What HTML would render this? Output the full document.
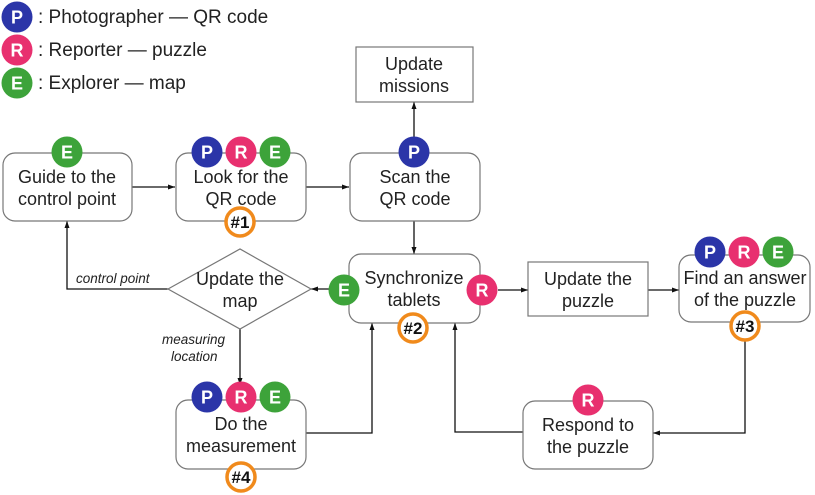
<!DOCTYPE html>
<html><head><meta charset="utf-8"><style>
body{margin:0;background:#fff;}
svg{display:block;font-family:"Liberation Sans",sans-serif;}
.box{fill:#fff;stroke:#777;stroke-width:1.2;}
.t{font-size:18px;fill:#222;text-anchor:middle;}
.ln{fill:none;stroke:#111;stroke-width:1.3;}
.bt{font-size:18px;font-weight:bold;fill:#fff;text-anchor:middle;}
.nt{font-size:17px;font-weight:bold;fill:#111;text-anchor:middle;}
.lab{font-size:13.5px;font-style:italic;fill:#222;}
</style></head><body>
<svg width="815" height="495" viewBox="0 0 815 495">
<defs>
<marker id="a" markerWidth="8" markerHeight="8" refX="7" refY="4" orient="auto" markerUnits="userSpaceOnUse"><path d="M0,1.5 L7,4 L0,6.5z" fill="#111"/></marker>
<symbol id="P" overflow="visible"><circle r="15.5" fill="#2b35a8"/><text y="6.5" class="bt">P</text></symbol>
<symbol id="R" overflow="visible"><circle r="15.5" fill="#e8306f"/><text y="6.5" class="bt">R</text></symbol>
<symbol id="E" overflow="visible"><circle r="15.5" fill="#3da33a"/><text y="6.5" class="bt">E</text></symbol>
</defs>
<use href="#P" x="17" y="17"/><use href="#R" x="17" y="50"/><use href="#E" x="17" y="83"/>
<text x="38" y="23" font-size="19" fill="#222">: Photographer — QR code</text>
<text x="38" y="56" font-size="19" fill="#222">: Reporter — puzzle</text>
<text x="38" y="89" font-size="19" fill="#222">: Explorer — map</text>

<path class="ln" d="M132,187 H175" marker-end="url(#a)"/>
<path class="ln" d="M306,187 H349" marker-end="url(#a)"/>
<path class="ln" d="M414,137 V102" marker-end="url(#a)"/>
<path class="ln" d="M414,221 V254" marker-end="url(#a)"/>
<path class="ln" d="M329,289 H311" marker-end="url(#a)"/>
<path class="ln" d="M168,289 H67 V221" marker-end="url(#a)"/>
<path class="ln" d="M240,329 V385" marker-end="url(#a)"/>
<path class="ln" d="M306,433 H372 V323" marker-end="url(#a)"/>
<path class="ln" d="M498,290 H528" marker-end="url(#a)"/>
<path class="ln" d="M648,290 H679" marker-end="url(#a)"/>
<path class="ln" d="M745,341 V433 H653" marker-end="url(#a)"/>
<path class="ln" d="M523,432 H455 V323" marker-end="url(#a)"/>

<rect class="box" x="3" y="153" width="129" height="68" rx="12"/>
<text class="t" x="67" y="183">Guide to the</text><text class="t" x="67" y="205">control point</text>
<rect class="box" x="176" y="153" width="130" height="68" rx="12"/>
<text class="t" x="241" y="183">Look for the</text><text class="t" x="241" y="205">QR code</text>
<rect class="box" x="350" y="153" width="130" height="68" rx="12"/>
<text class="t" x="415" y="183">Scan the</text><text class="t" x="415" y="205">QR code</text>
<rect class="box" x="356" y="47" width="117" height="55"/>
<text class="t" x="414" y="70">Update</text><text class="t" x="414" y="92">missions</text>
<rect class="box" x="349" y="254" width="131" height="69" rx="12"/>
<text class="t" x="414" y="284">Synchronize</text><text class="t" x="414" y="306">tablets</text>
<path class="box" d="M168,289 L240,249 L311,289 L240,329 Z"/>
<text class="t" x="240" y="285">Update the</text><text class="t" x="240" y="307">map</text>
<text class="lab" x="76" y="283">control point</text>
<text class="lab" x="162" y="344">measuring</text><text class="lab" x="171" y="361">location</text>
<rect class="box" x="528" y="262" width="120" height="54"/>
<text class="t" x="588" y="285">Update the</text><text class="t" x="588" y="307">puzzle</text>
<rect class="box" x="679" y="255" width="131" height="67" rx="12"/>
<text class="t" x="745" y="284">Find an answer</text><text class="t" x="745" y="306">of the puzzle</text>
<rect class="box" x="523" y="401" width="130" height="68" rx="12"/>
<text class="t" x="588" y="431">Respond to</text><text class="t" x="588" y="453">the puzzle</text>
<rect class="box" x="176" y="400" width="130" height="69" rx="12"/>
<text class="t" x="241" y="430">Do the</text><text class="t" x="241" y="452">measurement</text>

<use href="#E" x="67" y="152"/>
<use href="#P" x="207" y="152"/><use href="#R" x="241" y="152"/><use href="#E" x="275" y="152"/>
<use href="#P" x="414" y="152"/>
<use href="#E" x="344" y="290"/><use href="#R" x="482" y="290"/>
<use href="#P" x="710" y="252"/><use href="#R" x="744" y="252"/><use href="#E" x="778" y="252"/>
<use href="#R" x="588" y="400"/>
<use href="#P" x="207" y="397"/><use href="#R" x="241" y="397"/><use href="#E" x="275" y="397"/>

<g fill="#fff" stroke="#f08a1c" stroke-width="3.5">
<circle cx="240" cy="222" r="14"/><circle cx="413" cy="328" r="14"/><circle cx="745" cy="326" r="14"/><circle cx="241" cy="477" r="14"/>
</g>
<text class="nt" x="240" y="228">#1</text>
<text class="nt" x="413" y="334">#2</text>
<text class="nt" x="745" y="332">#3</text>
<text class="nt" x="241" y="483">#4</text>
</svg>
</body></html>
